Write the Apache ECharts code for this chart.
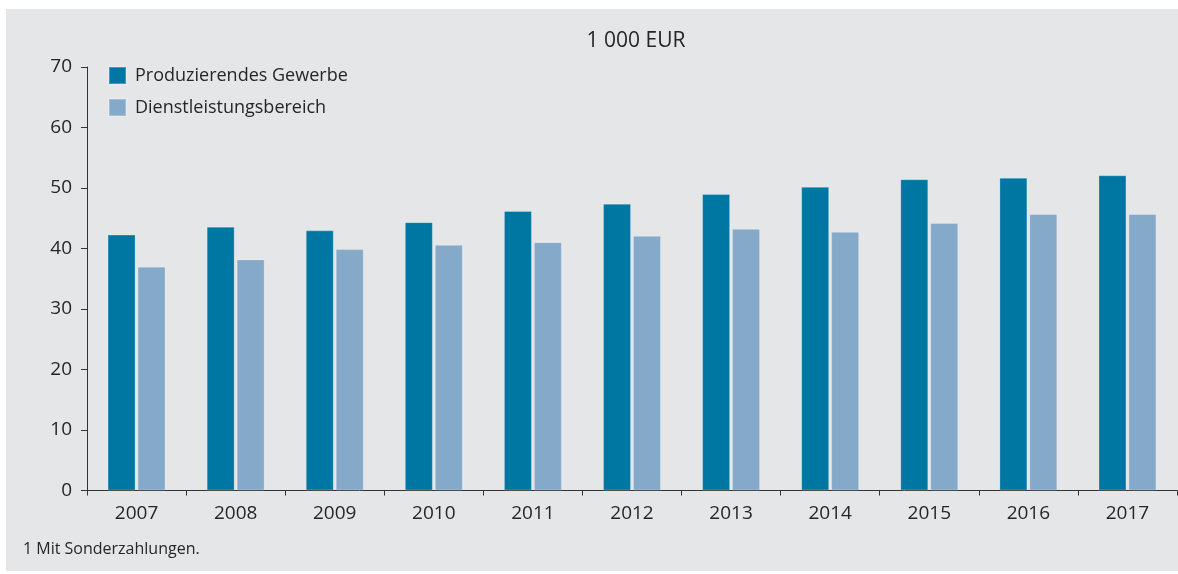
<!DOCTYPE html>
<html><head><meta charset="utf-8">
<script src="https://cdn.jsdelivr.net/npm/echarts@6/dist/echarts.min.js"></script>
<style>html,body{margin:0;padding:0;background:#fff;}#c{width:1178px;height:574px;}</style>
</head><body><div id="c"></div>
<script>
const categories = ['2007','2008','2009','2010','2011','2012','2013','2014','2015','2016','2017'];
const produzierendes = [42.3, 43.6, 43.0, 44.35, 46.2, 47.4, 49.0, 50.2, 51.45, 51.7, 52.1];
const dienstleistung = [37.0, 38.2, 39.9, 40.6, 41.05, 42.1, 43.25, 42.75, 44.2, 45.7, 45.7];
const seriesNames = ['Produzierendes Gewerbe', 'Dienstleistungsbereich'];
const unitLabel = '1 000 EUR';
const footnote = '1 Mit Sonderzahlungen.';

const FONT = '"Open Sans", sans-serif';
const TXT = '#262626';
const chart = echarts.init(document.getElementById('c'), null, {renderer: 'canvas'});
chart.setOption({
  animation: false,
  backgroundColor: '#fff',
  textStyle: {fontFamily: FONT},
  graphic: [
    {type: 'rect', z: -10, shape: {x: 6, y: 9, width: 1172, height: 562}, style: {fill: '#e5e6e8'}},
    {type: 'text', left: 23, top: 541, style: {text: footnote, font: '16px ' + FONT, fill: TXT}}
  ],
  title: {
    text: unitLabel, left: 631, top: 26, textAlign: 'center',
    textStyle: {fontFamily: FONT, fontSize: 21, fontWeight: 'normal', color: TXT}
  },
  legend: {
    left: 103, top: 61, orient: 'vertical', itemWidth: 17, itemHeight: 17, itemGap: 13,
    icon: 'rect',
    textStyle: {fontFamily: FONT, fontSize: 18, color: TXT, padding: [0, 0, 0, 4]},
    data: seriesNames
  },
  grid: {left: 87, right: 1, top: 67, bottom: 83.5, containLabel: false},
  xAxis: {
    type: 'category', data: categories,
    axisLine: {lineStyle: {color: '#333', width: 1}},
    axisTick: {show: true, length: 5, lineStyle: {color: '#333'}},
    axisLabel: {fontFamily: FONT, fontSize: 19, color: TXT, margin: 14}
  },
  yAxis: {
    type: 'value', min: 0, max: 70, interval: 10,
    axisLine: {show: true, lineStyle: {color: '#333', width: 1}},
    axisTick: {show: true, length: 6, lineStyle: {color: '#333'}},
    splitLine: {show: false},
    axisLabel: {fontFamily: FONT, fontSize: 19, color: TXT, margin: 15}
  },
  series: [
    {name: seriesNames[0], type: 'bar', data: produzierendes, barWidth: 28, barGap: '7%',
     itemStyle: {color: '#0076a3', borderColor: 'rgba(255,255,255,0.25)', borderWidth: 1}},
    {name: seriesNames[1], type: 'bar', data: dienstleistung, barWidth: 28, barGap: '7%',
     itemStyle: {color: '#84a9c9', borderColor: 'rgba(255,255,255,0.25)', borderWidth: 1}}
  ]
});
</script></body></html>
